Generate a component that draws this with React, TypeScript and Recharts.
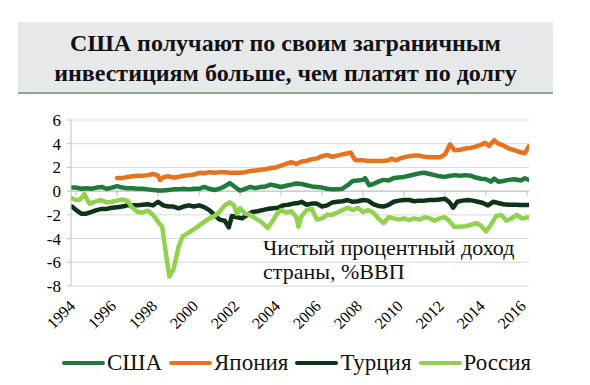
import React from "react";
import { LineChart, Line, XAxis, YAxis, CartesianGrid, ReferenceLine } from "recharts";

const titleLines = ["США получают по своим заграничным", "инвестициям больше, чем платят по долгу"];
const noteLines = ["Чистый процентный доход", "страны, %ВВП"];
const yearTicks = [1994, 1996, 1998, 2000, 2002, 2004, 2006, 2008, 2010, 2012, 2014, 2016];
const valueTicks = [-8, -6, -4, -2, 0, 2, 4, 6];

const usaData: [number, number][] = [
  [1993.8, 0.3], [1994.0, 0.3], [1994.25, 0.2], [1994.5, 0.25], [1994.75, 0.2], [1995.0, 0.3], [1995.25, 0.35],
  [1995.5, 0.2], [1995.75, 0.3], [1996.0, 0.42], [1996.25, 0.3], [1996.5, 0.25], [1996.75, 0.25], [1997.0, 0.2],
  [1997.25, 0.2], [1997.5, 0.15], [1997.75, 0.1], [1998.0, 0.05], [1998.25, 0.05], [1998.5, 0.1], [1998.75, 0.15],
  [1999.0, 0.15], [1999.25, 0.2], [1999.5, 0.15], [1999.75, 0.2], [2000.0, 0.2], [2000.25, 0.35], [2000.5, 0.2],
  [2000.75, 0.1], [2001.0, 0.2], [2001.25, 0.4], [2001.5, 0.68], [2001.75, 0.35], [2002.0, 0.05], [2002.25, 0.2],
  [2002.5, 0.35], [2002.75, 0.25], [2003.0, 0.35], [2003.25, 0.4], [2003.5, 0.55], [2003.75, 0.45], [2004.0, 0.35],
  [2004.25, 0.45], [2004.5, 0.55], [2004.75, 0.65], [2005.0, 0.6], [2005.25, 0.5], [2005.5, 0.4], [2005.75, 0.35],
  [2006.0, 0.3], [2006.25, 0.2], [2006.5, 0.15], [2006.75, 0.15], [2007.0, 0.2], [2007.25, 0.5], [2007.5, 0.85],
  [2007.75, 0.9], [2008.0, 0.95], [2008.1, 1.1], [2008.3, 0.5], [2008.5, 0.6], [2008.75, 0.8], [2009.0, 0.95],
  [2009.25, 0.9], [2009.5, 1.1], [2009.75, 1.15], [2010.0, 1.2], [2010.25, 1.3], [2010.5, 1.4], [2010.75, 1.5],
  [2011.0, 1.55], [2011.25, 1.45], [2011.5, 1.35], [2011.75, 1.25], [2012.0, 1.2], [2012.25, 1.3], [2012.5, 1.35],
  [2012.75, 1.3], [2013.0, 1.35], [2013.25, 1.3], [2013.5, 1.15], [2013.75, 1.05], [2014.0, 1.0], [2014.25, 0.8],
  [2014.4, 1.05], [2014.6, 0.8], [2014.85, 0.85], [2015.1, 0.95], [2015.4, 1.0], [2015.7, 0.9], [2015.9, 1.08],
  [2016.1, 0.95],
];

const japanData: [number, number][] = [
  [1996.0, 1.1], [1996.25, 1.1], [1996.5, 1.2], [1996.75, 1.25], [1997.0, 1.3], [1997.25, 1.3], [1997.5, 1.35],
  [1997.75, 1.45], [1998.0, 1.3], [1998.1, 0.95], [1998.3, 1.2], [1998.5, 1.25], [1998.75, 1.15], [1999.0, 1.2],
  [1999.25, 1.3], [1999.5, 1.35], [1999.75, 1.4], [2000.0, 1.55], [2000.25, 1.5], [2000.5, 1.6], [2000.75, 1.55],
  [2001.0, 1.6], [2001.25, 1.6], [2001.5, 1.55], [2001.75, 1.55], [2002.0, 1.55], [2002.25, 1.6], [2002.5, 1.7],
  [2002.75, 1.75], [2003.0, 1.8], [2003.25, 1.85], [2003.5, 1.95], [2003.75, 2.0], [2004.0, 2.15], [2004.25, 2.3],
  [2004.5, 2.45], [2004.75, 2.3], [2005.0, 2.5], [2005.25, 2.55], [2005.5, 2.7], [2005.75, 2.75], [2006.0, 2.95],
  [2006.25, 3.05], [2006.5, 2.9], [2006.75, 3.0], [2007.0, 3.1], [2007.25, 3.2], [2007.4, 3.25], [2007.6, 2.65],
  [2007.75, 2.6], [2008.0, 2.6], [2008.25, 2.55], [2008.5, 2.55], [2008.75, 2.55], [2009.0, 2.55], [2009.25, 2.6],
  [2009.4, 2.75], [2009.6, 2.6], [2009.8, 2.75], [2010.0, 2.85], [2010.25, 2.95], [2010.5, 3.0], [2010.75, 3.0],
  [2011.0, 2.9], [2011.25, 2.85], [2011.5, 2.85], [2011.75, 2.85], [2012.0, 3.1], [2012.25, 3.95], [2012.45, 3.45],
  [2012.75, 3.5], [2013.0, 3.6], [2013.25, 3.65], [2013.5, 3.75], [2013.75, 3.9], [2013.95, 4.08], [2014.15, 3.8],
  [2014.4, 4.3], [2014.6, 4.0], [2014.85, 3.85], [2015.1, 3.6], [2015.4, 3.45], [2015.65, 3.3], [2015.9, 3.2],
  [2016.1, 3.8],
];

const turkeyData: [number, number][] = [
  [1993.8, -1.3], [1994.0, -1.6], [1994.25, -1.9], [1994.5, -1.9], [1994.75, -1.75], [1995.0, -1.6], [1995.25, -1.5],
  [1995.5, -1.5], [1995.75, -1.4], [1996.0, -1.35], [1996.25, -1.3], [1996.5, -1.2], [1996.75, -1.2], [1997.0, -1.2],
  [1997.25, -1.15], [1997.5, -1.1], [1997.75, -1.2], [1998.0, -0.9], [1998.25, -1.2], [1998.5, -1.3], [1998.75, -1.3],
  [1999.0, -1.45], [1999.25, -1.3], [1999.5, -1.2], [1999.75, -1.3], [2000.0, -1.2], [2000.25, -1.35], [2000.5, -1.6],
  [2000.75, -2.0], [2001.0, -2.4], [2001.25, -2.5], [2001.45, -3.05], [2001.6, -2.1], [2001.85, -2.2], [2002.1, -2.3],
  [2002.35, -2.0], [2002.6, -1.75], [2002.85, -1.7], [2003.1, -1.6], [2003.35, -1.5], [2003.6, -1.45], [2003.85, -1.4],
  [2004.1, -1.2], [2004.35, -1.15], [2004.6, -1.05], [2004.85, -1.0], [2005.0, -0.9], [2005.25, -1.15], [2005.5, -1.05],
  [2005.75, -1.05], [2006.0, -1.3], [2006.25, -1.2], [2006.5, -0.95], [2006.75, -0.9], [2007.0, -0.85], [2007.25, -0.75],
  [2007.5, -0.9], [2007.75, -0.85], [2008.0, -0.75], [2008.25, -0.8], [2008.5, -1.1], [2008.75, -1.25], [2009.0, -1.3],
  [2009.25, -1.15], [2009.5, -0.9], [2009.75, -0.8], [2010.0, -0.75], [2010.25, -0.75], [2010.5, -0.85], [2010.75, -0.8],
  [2011.0, -0.8], [2011.25, -0.75], [2011.5, -0.75], [2011.75, -0.7], [2012.0, -0.65], [2012.2, -0.9], [2012.4, -1.4],
  [2012.6, -0.9], [2012.85, -0.8], [2013.1, -0.75], [2013.35, -0.8], [2013.6, -0.9], [2013.85, -1.0], [2014.1, -1.2],
  [2014.35, -0.9], [2014.6, -1.0], [2014.85, -1.1], [2015.1, -1.15], [2015.4, -1.15], [2015.7, -1.17], [2016.1, -1.17],
];

const russiaData: [number, number][] = [
  [1993.8, -0.6], [1994.0, -0.75], [1994.2, -0.7], [1994.4, -0.25], [1994.65, -1.05], [1994.9, -0.9], [1995.2, -0.75],
  [1995.5, -0.95], [1995.75, -0.9], [1996.0, -0.8], [1996.25, -0.7], [1996.5, -0.8], [1996.75, -1.4], [1997.0, -1.75],
  [1997.25, -1.8], [1997.5, -1.65], [1997.75, -2.0], [1998.0, -2.6], [1998.2, -3.0], [1998.4, -5.5], [1998.55, -7.2],
  [1998.75, -6.6], [1999.0, -4.7], [1999.2, -3.8], [1999.5, -3.5], [1999.75, -3.2], [2000.0, -2.9], [2000.25, -2.6],
  [2000.5, -2.3], [2000.75, -2.1], [2001.0, -1.75], [2001.25, -1.2], [2001.5, -0.95], [2001.7, -1.2], [2001.85, -1.9],
  [2002.0, -1.45], [2002.25, -1.9], [2002.5, -2.0], [2002.75, -2.3], [2003.0, -2.55], [2003.35, -3.1], [2003.6, -2.5],
  [2003.85, -1.8], [2004.0, -1.6], [2004.25, -1.8], [2004.5, -1.7], [2004.75, -2.2], [2004.85, -3.0], [2005.0, -2.1],
  [2005.25, -1.6], [2005.5, -1.5], [2005.75, -2.4], [2006.0, -2.3], [2006.25, -2.0], [2006.5, -2.0], [2006.75, -1.8],
  [2007.0, -1.6], [2007.25, -1.4], [2007.5, -1.6], [2007.75, -1.4], [2008.0, -1.75], [2008.25, -1.6], [2008.5, -1.8],
  [2008.75, -2.3], [2009.0, -2.7], [2009.25, -2.2], [2009.5, -2.3], [2009.75, -2.4], [2010.0, -2.3], [2010.25, -2.45],
  [2010.5, -2.3], [2010.75, -2.4], [2011.0, -2.2], [2011.25, -2.3], [2011.5, -2.5], [2011.75, -2.3], [2012.0, -2.2],
  [2012.2, -2.5], [2012.45, -3.0], [2012.7, -3.0], [2013.0, -2.95], [2013.25, -2.85], [2013.5, -2.7], [2013.75, -2.9],
  [2014.0, -3.4], [2014.25, -2.8], [2014.5, -2.1], [2014.75, -2.0], [2015.0, -2.5], [2015.25, -2.3], [2015.5, -2.0],
  [2015.75, -2.3], [2016.1, -2.2],
];

const seriesNames = ["США", "Япония", "Турция", "Россия"];
const seriesColors = ["#1f7a3c", "#e8731e", "#0f3319", "#92d050"];
const seriesData = [usaData, japanData, turkeyData, russiaData];

const FONT = "'Liberation Serif', 'Times New Roman', serif";

const toPoints = (arr: [number, number][]) => arr.map(([x, y]) => ({ x, y }));

const XTick = (props: any) => {
  const { x, y, payload } = props;
  return (
    <g transform={`translate(${x},${y + 19})`}>
      <text x={0} y={0} textAnchor="end" transform="rotate(-45)" fontSize={16} fontFamily={FONT} fill="#000">
        {payload.value}
      </text>
    </g>
  );
};

export default function App() {
  return (
    <div style={{ position: "absolute", left: 0, top: 0, width: 590, height: 385, background: "#fff", fontFamily: FONT }}>
      <div
        style={{
          position: "absolute",
          left: 18,
          top: 22,
          width: 535,
          height: 72,
          background: "#e7e8ea",
          borderBottom: "2px solid #86a98f",
          textAlign: "center",
          fontWeight: "bold",
          fontSize: 24,
          lineHeight: "30px",
          paddingTop: 6,
          boxSizing: "border-box",
          color: "#111",
        }}
      >
        {titleLines.map((t, i) => (
          <div key={i}>{t}</div>
        ))}
      </div>
      <div style={{ position: "absolute", left: 0, top: 0 }}>
        <LineChart width={590} height={385} margin={{ top: 120, right: 61, left: 0, bottom: 0 }}>
          <CartesianGrid horizontal vertical={false} stroke="#d9d9d9" />
          <XAxis
            type="number"
            dataKey="x"
            domain={[1993.75, 2016.1]}
            ticks={yearTicks}
            interval={0}
            allowDataOverflow
            axisLine={false}
            tickLine={false}
            tickSize={0}
            height={99}
            tick={<XTick />}
          />
          <YAxis
            type="number"
            domain={[-8, 6]}
            ticks={valueTicks}
            interval={0}
            width={71}
            axisLine={{ stroke: "#bfbfbf" }}
            tickLine={{ stroke: "#bfbfbf" }}
            tickSize={4}
            tickMargin={6}
            tick={{ fontSize: 17, fontFamily: FONT, fill: "#000" }}
          />
          <ReferenceLine y={0} stroke="#bfbfbf" strokeWidth={1} />
          {yearTicks.map((yr) => (
            <ReferenceLine
              key={yr}
              segment={[
                { x: yr, y: 0 },
                { x: yr, y: -0.42 },
              ]}
              stroke="#bfbfbf"
              strokeWidth={1}
            />
          ))}
          {seriesData.map((d, i) => (
            <Line
              key={seriesNames[i]}
              data={toPoints(d)}
              dataKey="y"
              type="linear"
              stroke={seriesColors[i]}
              strokeWidth={4.5}
              dot={false}
              isAnimationActive={false}
              strokeLinejoin="round"
              strokeLinecap="round"
            />
          ))}
        </LineChart>
      </div>
      <div style={{ position: "absolute", left: 263, top: 236, fontSize: 22, lineHeight: "24px", color: "#111" }}>
        {noteLines.map((t, i) => (
          <div key={i}>{t}</div>
        ))}
      </div>
      <div
        style={{
          position: "absolute",
          left: 0,
          top: 350,
          width: 600,
          display: "flex",
          justifyContent: "center",
          alignItems: "center",
          fontSize: 23,
          color: "#111",
        }}
      >
        {seriesNames.map((n, i) => (
          <div key={n} style={{ display: "flex", alignItems: "center", marginRight: 7 }}>
            <div style={{ width: 43, height: 4, background: seriesColors[i], borderRadius: 2, marginRight: 2 }} />
            <span>{n}</span>
          </div>
        ))}
      </div>
    </div>
  );
}
